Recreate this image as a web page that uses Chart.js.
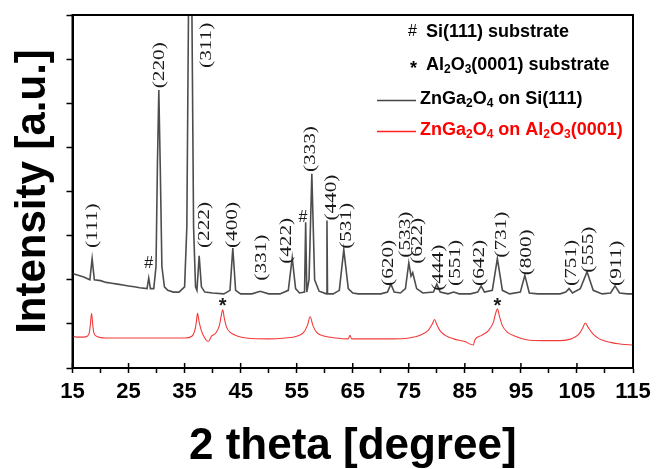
<!DOCTYPE html>
<html>
<head>
<meta charset="utf-8">
<script src="https://cdn.jsdelivr.net/npm/chart.js@4.4.0/dist/chart.umd.min.js"></script>
<style>
  html, body { margin: 0; padding: 0; background: #fff; }
  canvas { display: block; }
</style>
</head>
<body>
<canvas id="xrd" width="659" height="469"></canvas>
<script>
// ZnGa2O4 on Si(111) - 2theta / intensity (stacked, arb. units)
var siTheta = [15, 16, 17, 18.1, 18.5, 18.9, 20, 21, 22, 23, 24, 25, 26, 27, 28.3, 28.6, 28.9, 29.5, 29.9, 30.15,
  30.4, 30.65, 30.95, 31.4, 32, 33, 34, 35, 35.4, 35.75, 36.0, 36.25, 36.6, 36.95, 37.2, 37.6, 38.0, 38.6, 40, 42,
  43.1, 43.6, 44.1, 45, 47, 48.5, 50, 52, 53.5, 54.2, 54.8, 55.5, 56.4, 56.6, 56.8, 57.2, 57.7, 58.2, 59, 60.3,
  60.4, 60.5, 61.5, 62.6, 63.4, 64.2, 65, 66, 68, 70, 71.2, 71.8, 72.4, 73.5, 74.4, 75.0, 75.4, 75.7, 76.4, 77.5,
  79.4, 80.0, 80.6, 82, 83, 84, 86, 87.3, 87.9, 88.5, 89.9, 90.8, 91.7, 93, 94.9, 95.7, 96.5, 98, 100, 102,
  103, 103.6, 104.2, 105.6, 106.8, 107.9, 109.5, 111, 111.8, 112.6, 114, 115];
var siCounts = [1.07, 1.05, 1.03, 1.00, 1.24, 1.00, 0.99, 0.97, 0.96, 0.95, 0.94, 0.93, 0.92, 0.91, 0.90, 1.02, 0.90, 0.90, 1.15, 2.3,
  3.15, 2.3, 1.15, 0.92, 0.88, 0.86, 0.86, 0.92, 1.6, 4.5, 5.0, 4.5, 1.6, 0.92, 0.88, 1.27, 0.92, 0.86, 0.85, 0.84,
  0.88, 1.36, 0.88, 0.84, 0.84, 0.87, 0.84, 0.84, 0.88, 1.25, 0.90, 0.85, 0.86, 1.65, 0.86, 1.0, 2.2, 1.0, 0.87, 0.84,
  1.67, 0.84, 0.84, 0.88, 1.34, 0.90, 0.85, 0.84, 0.84, 0.84, 0.86, 0.95, 0.86, 0.85, 0.90, 1.19, 1.04, 1.08, 0.90, 0.85,
  0.86, 0.95, 0.86, 0.84, 0.86, 0.84, 0.84, 0.86, 0.93, 0.86, 0.88, 1.24, 0.88, 0.84, 0.86, 1.05, 0.85, 0.84, 0.84, 0.84,
  0.86, 0.90, 0.85, 0.90, 1.09, 0.88, 0.84, 0.85, 0.93, 0.85, 0.84, 0.84];

// ZnGa2O4 on Al2O3(0001)
var alTheta = [15, 16, 17, 17.6, 18.0, 18.2, 18.4, 18.6, 18.8, 19.3, 21, 23, 25, 27, 29, 31, 33, 35, 36.3, 36.8,
  37.1, 37.3, 37.6, 38.0, 38.6, 39.2, 39.8, 40.6, 41.2, 41.5, 41.8, 42.1, 42.5, 43.2, 44.5, 46, 50, 53, 55, 56.2,
  56.9, 57.4, 57.9, 58.6, 60, 62, 64.2, 64.5, 64.8, 68, 72, 75, 77, 78.5, 79.2, 79.6, 80.0, 80.6, 81.5, 83,
  85, 86.5, 86.8, 88, 89.3, 90.1, 90.5, 90.8, 91.2, 91.7, 92.5, 94, 96, 99, 102, 104, 105.3, 106.0, 106.5, 107.0,
  107.8, 109, 111, 113, 115];
var alCounts = [0.36, 0.35, 0.35, 0.36, 0.40, 0.50, 0.62, 0.50, 0.40, 0.36, 0.34, 0.34, 0.34, 0.34, 0.34, 0.34, 0.34, 0.34, 0.36, 0.42,
  0.52, 0.62, 0.52, 0.42, 0.34, 0.30, 0.36, 0.40, 0.48, 0.58, 0.66, 0.56, 0.46, 0.40, 0.36, 0.34, 0.33, 0.34, 0.36, 0.40,
  0.48, 0.58, 0.48, 0.40, 0.36, 0.34, 0.33, 0.37, 0.33, 0.33, 0.33, 0.34, 0.37, 0.43, 0.50, 0.55, 0.49, 0.42, 0.37, 0.33,
  0.30, 0.26, 0.32, 0.37, 0.43, 0.52, 0.62, 0.67, 0.58, 0.48, 0.41, 0.36, 0.32, 0.31, 0.31, 0.33, 0.38, 0.45, 0.51, 0.46,
  0.39, 0.33, 0.29, 0.27, 0.26];

var xLabelTicks = [15, 25, 35, 45, 55, 65, 75, 85, 95, 105, 115];

// (hkl) reflections: name, 2theta of the label, intensity where the label starts
var hklNames = ['(111)', '(220)', '(311)', '(222)', '(400)', '(331)', '(422)', '(333)', '(440)', '(531)',
  '(620)', '(533)', '(622)', '(444)', '(551)', '(642)', '(731)', '(800)', '(751)', '(555)', '(911)'];
var hklTheta = [18.65, 30.6, 39.0, 38.6, 43.6, 48.8, 53.2, 57.5, 61.2, 63.9,
  71.4, 74.4, 76.6, 80.3, 83.4, 87.6, 91.6, 96.0, 104.0, 107.1, 112.1];
var hklLevel = [1.36, 3.17, 3.40, 1.36, 1.36, 0.99, 1.18, 2.22, 1.67, 1.35,
  0.93, 1.25, 1.18, 0.875, 0.93, 0.93, 1.25, 1.05, 0.93, 1.08, 0.93];

// substrate reflections
var siSubTheta = [28.6, 56.1];
var siSubLevel = [1.18, 1.70];
var alSubTheta = [41.8, 90.8];
var alSubLevel = [0.74, 0.74];

function toPoints(xs, ys) {
  return xs.map(function (x, i) { return { x: x, y: ys[i] }; });
}

// draws text with subscript pieces: parts = [[text, isSub], ...]
function richText(ctx, parts, x, y, size) {
  parts.forEach(function (p) {
    if (p[1]) {
      ctx.font = 'bold ' + Math.round(size * 0.68) + 'px "Liberation Sans"';
      ctx.fillText(p[0], x, y + size * 0.28);
    } else {
      ctx.font = 'bold ' + size + 'px "Liberation Sans"';
      ctx.fillText(p[0], x, y);
    }
    x += ctx.measureText(p[0]).width;
  });
}

var annotate = {
  id: 'annotate',
  afterDraw: function (chart) {
    var ctx = chart.ctx, xs = chart.scales.x, ys = chart.scales.y, a = chart.chartArea;
    ctx.save();

    // box
    ctx.strokeStyle = '#000';
    ctx.lineWidth = 2;
    ctx.strokeRect(a.left, a.top, a.right - a.left, a.bottom - a.top);

    // major x ticks also point inwards
    ctx.lineWidth = 1.5;
    xLabelTicks.forEach(function (v) {
      var px = xs.getPixelForValue(v);
      ctx.beginPath();
      ctx.moveTo(px, a.bottom);
      ctx.lineTo(px, a.bottom - 5);
      ctx.stroke();
    });

    // hkl labels, rotated
    ctx.fillStyle = '#1a1a1a';
    ctx.font = '17px "Liberation Serif"';
    ctx.textAlign = 'left';
    ctx.textBaseline = 'middle';
    hklNames.forEach(function (name, i) {
      ctx.save();
      ctx.translate(xs.getPixelForValue(hklTheta[i]), ys.getPixelForValue(hklLevel[i]));
      ctx.rotate(-Math.PI / 2);
      ctx.scale(1.25, 1);
      ctx.fillText(name, 0, 0);
      ctx.restore();
    });

    // substrate marks
    ctx.textAlign = 'center';
    ctx.font = '16px "Liberation Sans"';
    siSubTheta.forEach(function (t, i) {
      ctx.fillText('#', xs.getPixelForValue(t), ys.getPixelForValue(siSubLevel[i]));
    });
    ctx.font = 'bold 20px "Liberation Sans"';
    alSubTheta.forEach(function (t, i) {
      ctx.fillText('*', xs.getPixelForValue(t), ys.getPixelForValue(alSubLevel[i]) + 4);
    });

    // legend
    ctx.textAlign = 'left';
    ctx.textBaseline = 'middle';
    ctx.fillStyle = '#000';
    ctx.font = '16px "Liberation Sans"';
    ctx.fillText('#', 408, 32);
    ctx.font = 'bold 18px "Liberation Sans"';
    ctx.fillText('*', 410, 69);
    richText(ctx, [['Si(111) substrate', 0]], 426, 32, 18);
    richText(ctx, [['Al', 0], ['2', 1], ['O', 0], ['3', 1], ['(0001) substrate', 0]], 426, 65, 18);

    ctx.lineWidth = 1.4;
    ctx.strokeStyle = '#444';
    ctx.beginPath(); ctx.moveTo(377, 100.5); ctx.lineTo(416, 100.5); ctx.stroke();
    richText(ctx, [['ZnGa', 0], ['2', 1], ['O', 0], ['4', 1], [' on Si(111)', 0]], 420, 99, 18);

    ctx.strokeStyle = '#ff2020';
    ctx.fillStyle = '#ff0000';
    ctx.beginPath(); ctx.moveTo(377, 131.5); ctx.lineTo(416, 131.5); ctx.stroke();
    richText(ctx, [['ZnGa', 0], ['2', 1], ['O', 0], ['4', 1], [' on Al', 0], ['2', 1], ['O', 0], ['3', 1], ['(0001)', 0]], 420, 130, 18);

    ctx.restore();
  }
};

var ctx = document.getElementById('xrd').getContext('2d');
var chart = new Chart(ctx, {
  type: 'line',
  data: {
    datasets: [{
      label: 'ZnGa2O4 on Si(111)',
      data: toPoints(siTheta, siCounts),
      borderColor: '#4d4d4d',
      borderWidth: 1.6,
      pointRadius: 0,
      tension: 0
    }, {
      label: 'ZnGa2O4 on Al2O3(0001)',
      data: toPoints(alTheta, alCounts),
      borderColor: '#f23a3a',
      borderWidth: 1.1,
      pointRadius: 0,
      cubicInterpolationMode: 'monotone'
    }]
  },
  options: {
    responsive: false,
    animation: false,
    devicePixelRatio: 1,
    layout: { padding: { left: 0, right: 26, top: 15, bottom: 0 } },
    plugins: {
      legend: { display: false },
      tooltip: { enabled: false }
    },
    scales: {
      x: {
        type: 'linear',
        min: 15,
        max: 115,
        ticks: {
          stepSize: 5,
          autoSkip: false,
          maxRotation: 0,
          padding: 6,
          color: '#000',
          font: { family: 'Liberation Sans', weight: 'bold', size: 22 },
          callback: function (v) { return xLabelTicks.indexOf(v) >= 0 ? String(v) : ''; }
        },
        grid: { drawOnChartArea: false, tickLength: 5, tickColor: '#000', tickWidth: 1.5 },
        border: { color: '#000', width: 2 },
        title: {
          display: true,
          text: '2 theta [degree]',
          color: '#000',
          font: { family: 'Liberation Sans', weight: 'bold', size: 44, lineHeight: 1 },
          padding: { top: 0, bottom: 0 }
        },
        afterFit: function (s) { s.height = 101; }
      },
      y: {
        min: 0,
        max: 4,
        ticks: { stepSize: 0.5, display: false },
        grid: { drawOnChartArea: false, tickLength: 6, tickColor: '#000', tickWidth: 1.5 },
        border: { color: '#000', width: 2 },
        title: {
          display: true,
          text: 'Intensity [a.u.]',
          color: '#000',
          font: { family: 'Liberation Sans', weight: 'bold', size: 42, lineHeight: 1 },
          padding: { top: 12, bottom: 0 }
        },
        afterFit: function (s) { s.width = 72.5; }
      }
    }
  },
  plugins: [annotate]
});
</script>
</body>
</html>
